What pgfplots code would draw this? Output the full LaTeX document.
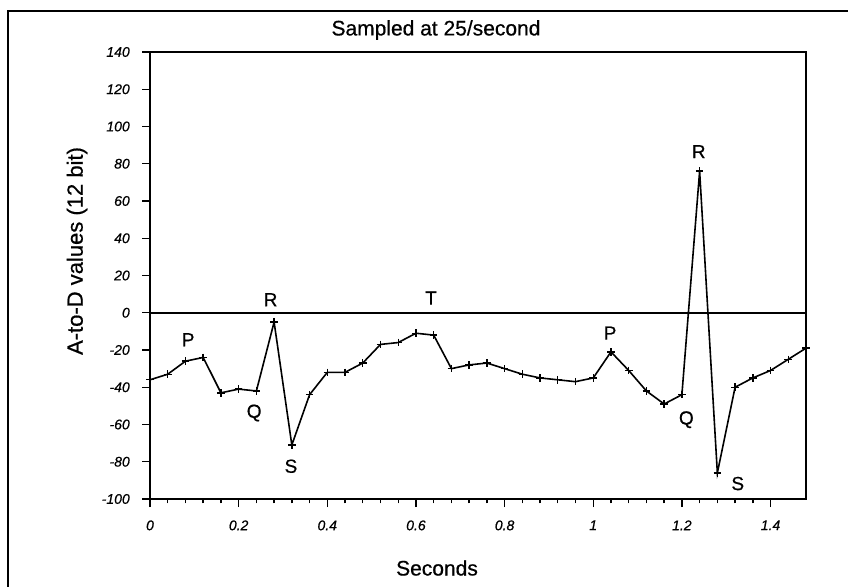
\documentclass[border=0pt]{standalone}
\usepackage{fontspec}
\setmainfont{Liberation Sans}[FakeBold=0.6]
\usepackage{pgfplots}
\pgfplotsset{compat=1.18}
\begin{document}
\begin{tikzpicture}
\useasboundingbox (0,0) rectangle (424bp,293.5bp);
\draw[line width=1bp] (4bp,0) -- (4bp,287.75bp) -- (424bp,287.75bp);
\node[font=\fontsize{10.5bp}{12bp}\selectfont] at (218bp,278.5bp) {Sampled at 25/second};
\node[font=\fontsize{10.5bp}{12bp}\selectfont] at (218.5bp,9.5bp) {Seconds};
\node[font=\fontsize{11bp}{12bp}\selectfont, rotate=90] at (38.5bp,168bp) {A-to-D values (12 bit)};
\begin{axis}[
  at={(75bp,44bp)}, anchor=south west,
  scale only axis, width=328bp, height=223.5bp,
  xmin=0, xmax=1.48, ymin=-100, ymax=140,
  xtick={0,0.2,...,1.4}, ytick={-100,-80,...,140},
  minor x tick num=4,
  xtick pos=bottom, ytick pos=left,
  tick align=outside,
  major tick length=4bp, minor tick length=2.2bp,
  axis line style={line width=0.9bp},
  every tick/.style={line width=0.7bp, black},
  /pgf/number format/assume math mode=true,
  ticklabel style={font=\fontsize{7bp}{8bp}\selectfont\itshape},
  xticklabel style={yshift=-3.2bp},
  yticklabel style={xshift=-2.6bp},
  clip=false,
]
\addplot[black, line width=0.85bp, forget plot] coordinates {(0,0) (1.48,0)};
\addplot[black, line width=0.8bp, mark=+, mark size=1.9bp, mark options={line width=0.7bp}] coordinates {
(0,-36) (0.04,-33) (0.08,-26) (0.12,-24) (0.16,-43) (0.20,-41) (0.24,-42) (0.28,-5)
(0.32,-71) (0.36,-44) (0.40,-32) (0.44,-32) (0.48,-27) (0.52,-17) (0.56,-16) (0.60,-11)
(0.64,-12) (0.68,-30) (0.72,-28) (0.76,-27) (0.80,-30) (0.84,-33) (0.88,-35) (0.92,-36)
(0.96,-37) (1.00,-35) (1.04,-21) (1.08,-31) (1.12,-42) (1.16,-49) (1.20,-44) (1.24,76)
(1.28,-86) (1.32,-40) (1.36,-35) (1.40,-31) (1.44,-25) (1.48,-19)
};
\begin{scope}[every node/.style={font=\fontsize{9.5bp}{10bp}\selectfont}]
\node at (axis cs:0.086,-14.5) {P};
\node at (axis cs:0.272,7) {R};
\node at (axis cs:0.235,-53.8) {Q};
\node at (axis cs:0.318,-82.4) {S};
\node at (axis cs:0.634,7.9) {T};
\node at (axis cs:1.038,-10.9) {P};
\node at (axis cs:1.21,-57.4) {Q};
\node at (axis cs:1.326,-91.7) {S};
\node at (axis cs:1.238,86.5) {R};
\end{scope}
\end{axis}
\end{tikzpicture}
\end{document}
